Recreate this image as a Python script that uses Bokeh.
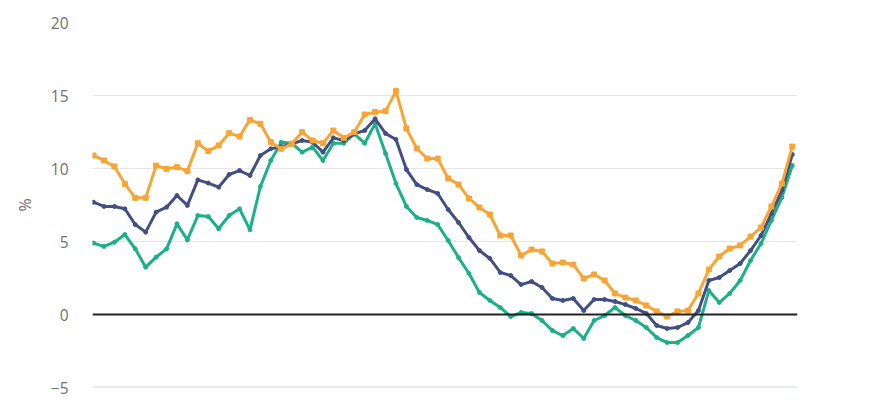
from bokeh.plotting import figure
from bokeh.models import Range1d, Span
from bokeh.embed import file_html
from bokeh.resources import INLINE

orange_vals = [10.89, 10.55, 10.14, 8.95, 7.99, 7.99, 10.2, 9.98, 10.09, 9.82,
               11.73, 11.19, 11.58, 12.42, 12.19, 13.33, 13.06, 11.8, 11.35, 11.69,
               12.49, 11.92, 11.73, 12.6, 12.1, 12.49, 13.7, 13.86, 13.93, 15.3,
               12.74, 11.37, 10.68, 10.68, 9.32, 8.9, 7.95, 7.33, 6.85, 5.41,
               5.41, 4.04, 4.45, 4.32, 3.49, 3.56, 3.42, 2.47, 2.74, 2.33,
               1.44, 1.16, 0.96, 0.62, 0.21, -0.14, 0.21, 0.27, 1.44, 3.08,
               3.97, 4.52, 4.73, 5.34, 5.96, 7.4, 8.97, 11.5]

navy_vals = [7.69, 7.4, 7.4, 7.24, 6.16, 5.64, 7.01, 7.35, 8.15, 7.47,
             9.22, 9.0, 8.72, 9.59, 9.86, 9.52, 10.89, 11.35, 11.5, 11.69,
             11.92, 11.8, 11.12, 12.1, 11.92, 12.37, 12.6, 13.4, 12.4, 11.99,
             9.93, 8.9, 8.56, 8.29, 7.19, 6.3, 5.27, 4.38, 3.84, 2.88,
             2.67, 2.05, 2.26, 1.85, 1.1, 0.96, 1.1, 0.27, 1.03, 1.03,
             0.89, 0.68, 0.41, 0.07, -0.75, -0.96, -0.89, -0.55, 0.27, 2.33,
             2.53, 3.01, 3.49, 4.38, 5.41, 6.92, 8.49, 10.96]

green_vals = [4.89, 4.66, 4.95, 5.48, 4.5, 3.24, 3.93, 4.5, 6.21, 5.11,
              6.78, 6.71, 5.87, 6.78, 7.24, 5.8, 8.77, 10.55, 11.8, 11.73,
              11.12, 11.46, 10.55, 11.73, 11.73, 12.37, 11.73, 13.06, 11.03, 8.97,
              7.4, 6.64, 6.44, 6.16, 5.07, 3.9, 2.81, 1.51, 0.96, 0.48,
              -0.14, 0.14, 0.07, -0.41, -1.1, -1.44, -0.96, -1.64, -0.41, -0.07,
              0.48, -0.07, -0.41, -0.89, -1.58, -1.92, -1.92, -1.44, -0.89, 1.64,
              0.82, 1.44, 2.33, 3.7, 4.86, 6.44, 8.01, 10.21]

periods = list(range(len(orange_vals)))
y_ticks = [-5, 0, 5, 10, 15, 20]

ORANGE = "#F7A535"
NAVY = "#434F82"
GREEN = "#1CB088"

p = figure(width=854, height=398, output_backend="svg", toolbar_location=None,
           x_range=Range1d(-0.1, 67.5), y_range=Range1d(-5, 20),
           min_border_left=92, min_border_right=57, min_border_top=22,
           min_border_bottom=11)
p.outline_line_color = None
p.background_fill_color = "white"
p.border_fill_color = "white"

p.xaxis.visible = False
p.xgrid.visible = False
p.ygrid.grid_line_color = "#e6e6e6"
p.ygrid.grid_line_width = 1

p.yaxis.ticker = y_ticks
p.yaxis.axis_line_color = None
p.yaxis.major_tick_line_color = None
p.yaxis.minor_tick_line_color = None
p.yaxis.major_label_text_color = "#707070"
p.yaxis.major_label_text_font = "Open Sans"
p.yaxis.major_label_text_font_size = "15.5px"
p.yaxis.major_label_standoff = 18
p.yaxis.axis_label = "%"
p.yaxis.axis_label_text_color = "#707070"
p.yaxis.axis_label_text_font = "Open Sans"
p.yaxis.axis_label_text_font_style = "normal"
p.yaxis.axis_label_text_font_size = "16px"
p.yaxis.axis_label_standoff = 12

# bottom axis line (Highcharts style) and zero plot line
p.add_layout(Span(location=-5, dimension="width", line_color="#ccd6eb", line_width=2))
p.add_layout(Span(location=0, dimension="width", line_color="#222222", line_width=2))

p.line(periods, green_vals, line_color=GREEN, line_width=3)
p.scatter(periods, green_vals, marker="circle", size=4, color=GREEN)
p.line(periods, navy_vals, line_color=NAVY, line_width=3)
p.scatter(periods, navy_vals, marker="circle", size=4, color=NAVY)
p.line(periods, orange_vals, line_color=ORANGE, line_width=3)
p.scatter(periods, orange_vals, marker="square", size=5, color=ORANGE)

open("out.html", "w").write(file_html(p, INLINE))
